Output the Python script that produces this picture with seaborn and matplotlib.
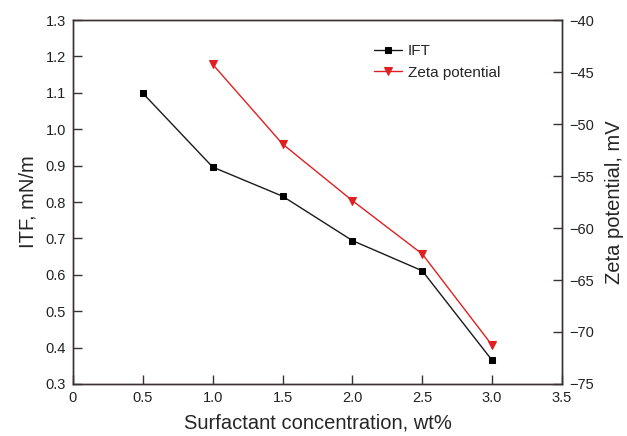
import matplotlib
matplotlib.use("Agg")
import matplotlib.pyplot as plt
import seaborn as sns
import pandas as pd

# ============================================================
# Data
# ============================================================

ift_conc = [0.5, 1.0, 1.5, 2.0, 2.5, 3.0]
ift_values = [1.099, 0.896, 0.816, 0.694, 0.611, 0.365]

zeta_conc = [1.0, 1.5, 2.0, 2.5, 3.0]
zeta_values = [-44.26, -51.92, -57.37, -62.5, -71.28]

x_ticks = [0, 0.5, 1.0, 1.5, 2.0, 2.5, 3.0, 3.5]
x_tick_labels = ["0", "0.5", "1.0", "1.5", "2.0", "2.5", "3.0", "3.5"]

df_ift = pd.DataFrame({"conc": ift_conc, "value": ift_values})
df_zeta = pd.DataFrame({"conc": zeta_conc, "value": zeta_values})

# ============================================================
# Style
# ============================================================

sns.set_style("ticks")
plt.rcParams["font.family"] = ["Liberation Sans", "DejaVu Sans"]
spine_color = "#3a3232"

fig = plt.figure(figsize=(6.27, 4.36), dpi=100)
ax = fig.add_axes([0.1164, 0.1193, 0.7799, 0.8347])
ax2 = ax.twinx()

# ============================================================
# Plot
# ============================================================

sns.lineplot(
    data=df_ift, x="conc", y="value", ax=ax,
    color="#1a1a1a", marker="s", markersize=5,
    markeredgecolor="black", markerfacecolor="black",
    linewidth=1.0, label="IFT", legend=False
)

sns.lineplot(
    data=df_zeta, x="conc", y="value", ax=ax2,
    color="#e02020", marker="v", markersize=6,
    markeredgecolor="#e02020", markerfacecolor="#e02020",
    linewidth=1.0, label="Zeta potential", legend=False
)

ax.set_xlim(0, 3.5)
ax.set_ylim(0.3, 1.3)
ax2.set_ylim(-75, -40)

ax.set_xticks(x_ticks)
ax.set_xticklabels(x_tick_labels)
ax.set_yticks([0.3 + 0.1 * i for i in range(11)])
ax.set_yticklabels([f"{0.3 + 0.1 * i:.1f}" for i in range(11)])
ax2.set_yticks(list(range(-75, -39, 5)))
ax2.set_yticklabels([f"\u2212{abs(v)}" for v in range(-75, -39, 5)])

ax.set_xlabel("Surfactant concentration, wt%", fontsize=14.5, labelpad=6)
ax.set_ylabel("ITF, mN/m", fontsize=14.5, labelpad=6)
ax2.set_ylabel("Zeta potential, mV", fontsize=14.5, labelpad=8)

for a in (ax, ax2):
    for s in a.spines.values():
        s.set_color(spine_color)
        s.set_linewidth(1.0)
        s.set_visible(True)
    a.tick_params(direction="in", length=6.5, width=1.0, color=spine_color,
                  labelsize=10.5, labelcolor="#222222")

ax.tick_params(axis="both", pad=5)
ax2.tick_params(axis="y", pad=5)

# ============================================================
# Legend
# ============================================================

h1, l1 = ax.get_legend_handles_labels()
h2, l2 = ax2.get_legend_handles_labels()
ax.legend(
    h1 + h2, l1 + l2,
    loc="upper left", bbox_to_anchor=(0.588, 0.972),
    frameon=False, fontsize=11, handlelength=1.8,
    handletextpad=0.4, labelspacing=0.5
)

plt.savefig("out.png", dpi=100)
plt.close()
